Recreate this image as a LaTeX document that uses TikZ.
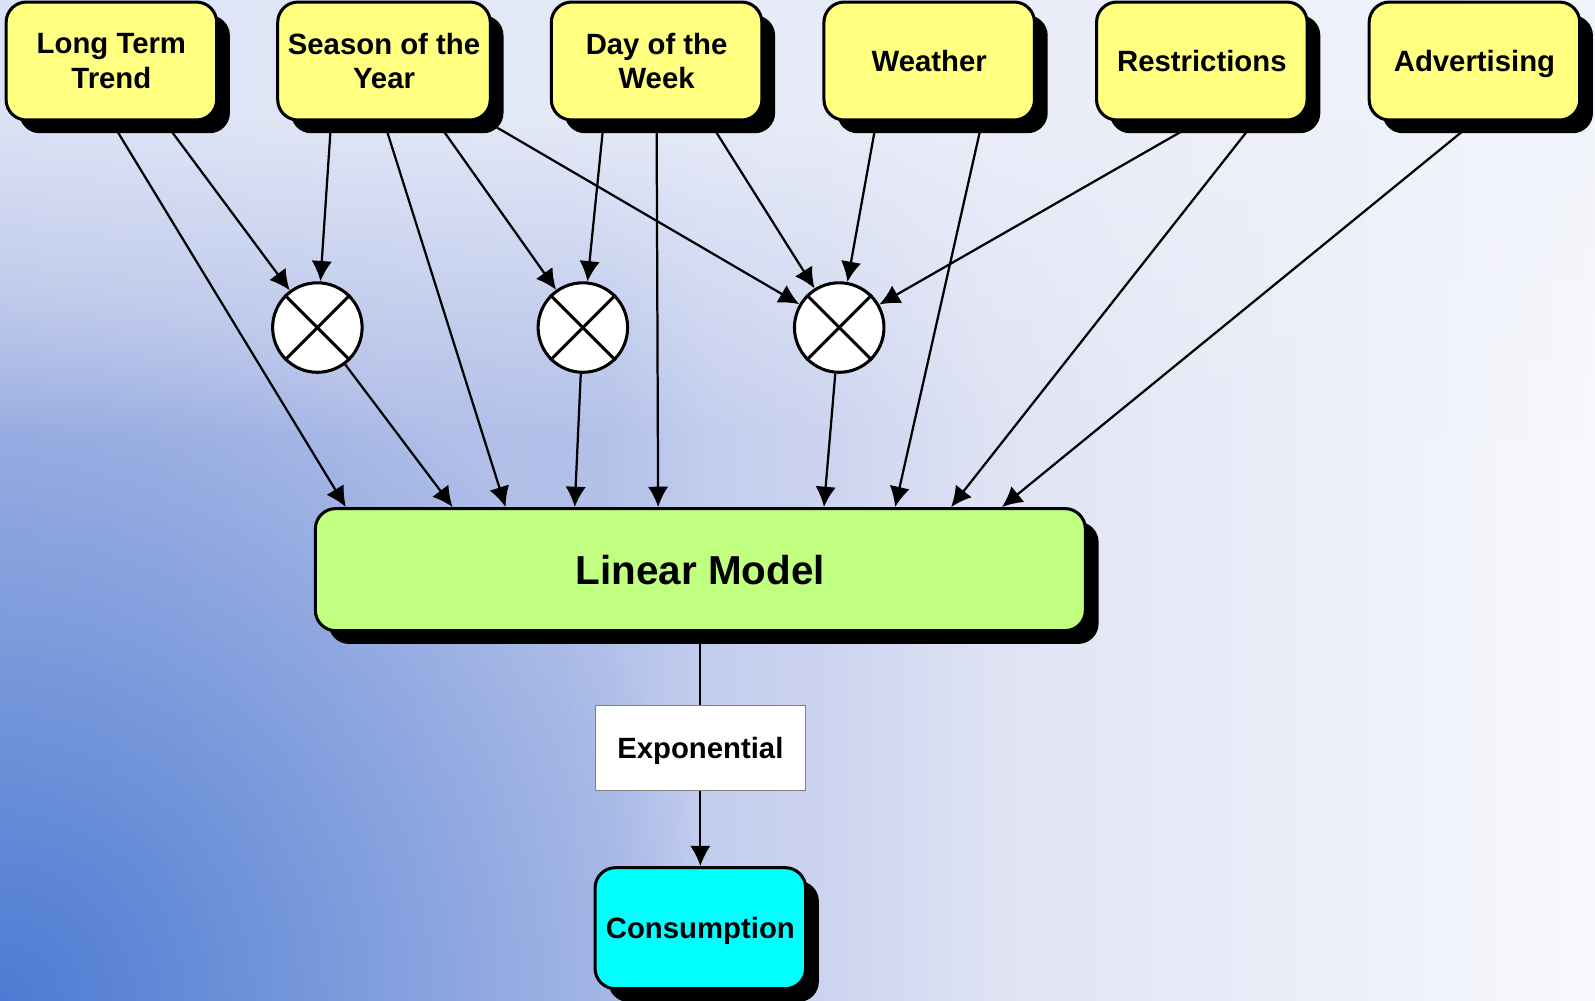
\documentclass[tikz,border=0pt]{standalone}
\usepackage{fontspec}
\setmainfont{Liberation Sans}
\usetikzlibrary{arrows.meta,shadows,fadings}

\definecolor{boxyellow}{HTML}{FFFF80}
\definecolor{modelgreen}{HTML}{C0FF80}
\definecolor{outcyan}{HTML}{00FFFF}
\definecolor{bga}{HTML}{AAB9E5}
\definecolor{bgb}{HTML}{B3C1E9}
\definecolor{bgc}{HTML}{C3CDEE}
\definecolor{bgd}{HTML}{CBD3EF}
\definecolor{bge}{HTML}{DFE3F4}
\definecolor{bgf}{HTML}{F8F9FD}
\definecolor{bgblue}{HTML}{4D7BD3}
\definecolor{toplft}{HTML}{DCE2F5}
\definecolor{toprgt}{HTML}{F2F4FB}

\pgfdeclarehorizontalshading{bg_horiz}{100bp}{color(0bp)=(bga); color(25bp)=(bga); color(44.1bp)=(bgb); color(47.3bp)=(bgc); color(50.7bp)=(bgd); color(56.3bp)=(bge); color(75bp)=(bgf); color(100bp)=(bgf)}
\tikzfading[name=blob_fade, inner color=transparent!0, outer color=transparent!100]

\pgfdeclarelayer{bg}
\pgfdeclarelayer{edges}
\pgfsetlayers{bg,edges,main}

\begin{document}
\begin{tikzpicture}[x=0.1mm, y=-0.1mm, >={Latex[length=2mm,width=2mm]}]
    \tikzstyle{box_style} = [draw=black, line width=0.3mm, rounded corners=2mm, fill=boxyellow, minimum width=20.7mm, minimum height=11.6mm, align=center, inner sep=1mm, text depth=0pt, font=\fontsize{8.2}{9.6}\selectfont\bfseries, drop shadow={shadow xshift=1.3mm, shadow yshift=-1.3mm, opacity=1, fill=black}]
    \tikzstyle{mult_style} = [circle, draw=black, line width=0.3mm, fill=white, minimum size=8.8mm, inner sep=0pt]
    \tikzstyle{model_style} = [box_style, fill=modelgreen, minimum width=75.7mm, minimum height=12mm, font=\fontsize{11.3}{13}\selectfont\bfseries]
    \tikzstyle{exp_style} = [draw=gray, line width=0.1mm, fill=white, minimum width=20.7mm, minimum height=8.3mm, text depth=0pt, font=\fontsize{8.2}{9.6}\selectfont\bfseries]
    \tikzstyle{out_style} = [box_style, fill=outcyan, minimum height=11.9mm]
    \tikzstyle{arrow_style} = [->, black, line width=0.22mm]
    \tikzstyle{line_style} = [-, black, line width=0.22mm]

    \useasboundingbox (0,0) rectangle (1568,984);

    % background
    \begin{pgfonlayer}{bg}
        \shade[shading=bg_horiz] (0,0) rectangle (1568,984);
        \begin{scope}
            \clip (0,0) rectangle (1568,984);
            \fill[bgblue, path fading=blob_fade] (0,984) circle (70mm);
        \end{scope}
        \shade[left color=toplft, right color=toprgt] (0,0) rectangle (1568,120);
        \shade[left color=toplft, right color=toprgt, path fading=south] (0,120) rectangle (1568,430);
    \end{pgfonlayer}

    \node[box_style] (nlt) at (109.5,60) {Long Term\\Trend};
    \node[box_style] (nsy) at (377.5,60) {Season of the\\Year};
    \node[box_style] (ndw) at (645.5,60) {Day of the\\Week};
    \node[box_style] (nwe) at (913.5,60) {Weather};
    \node[box_style] (nre) at (1181.5,60) {Restrictions};
    \node[box_style] (nad) at (1449.5,60) {Advertising};

    \node[mult_style] (nm1) at (312,322) {};
    \node[mult_style] (nm2) at (573,322) {};
    \node[mult_style] (nm3) at (825,322) {};
    \foreach \m in {nm1,nm2,nm3}
        \draw[line width=0.3mm] (\m.north west) -- (\m.south east) (\m.north east) -- (\m.south west);

    \node[model_style] (nlm) at (688.5,560) {Linear Model};
    \node[exp_style] (nex) at (688.5,735.5) {Exponential};
    \node[out_style] (nco) at (688.5,912.5) {Consumption};

    \begin{pgfonlayer}{edges}
        \draw[arrow_style] (nlt.south) -- ([xshift=-34.85mm]nlm.north);
        \draw[arrow_style] ([xshift=5.2mm]nlt.south) -- (nm1);
        \draw[arrow_style] ([xshift=-5.2mm]nsy.south) -- (nm1);
        \draw[arrow_style] (nsy.south) -- ([xshift=-19.15mm]nlm.north);
        \draw[arrow_style] ([xshift=5.2mm]nsy.south) -- (nm2);
        \draw[arrow_style] ([xshift=10.1mm]nsy.south) -- (nm3);
        \draw[arrow_style] ([xshift=-5.2mm]ndw.south) -- (nm2);
        \draw[arrow_style] (ndw.south) -- ([xshift=-4.15mm]nlm.north);
        \draw[arrow_style] ([xshift=5.2mm]ndw.south) -- (nm3);
        \draw[arrow_style] ([xshift=-5.2mm]nwe.south) -- (nm3);
        \draw[arrow_style] ([xshift=5.2mm]nwe.south) -- ([xshift=19.15mm]nlm.north);
        \draw[arrow_style] ([xshift=-0.3mm]nre.south) -- (nm3);
        \draw[arrow_style] ([xshift=5.2mm]nre.south) -- ([xshift=24.65mm]nlm.north);
        \draw[arrow_style] (nad.south) -- ([xshift=29.65mm]nlm.north);
        \draw[arrow_style] (nm1) -- ([xshift=-24.35mm]nlm.north);
        \draw[arrow_style] (nm2) -- ([xshift=-12.35mm]nlm.north);
        \draw[arrow_style] (nm3) -- ([xshift=12.15mm]nlm.north);
        \draw[line_style] (nlm) -- (nex);
        \draw[arrow_style] (nex) -- (nco);
    \end{pgfonlayer}
\end{tikzpicture}
\end{document}
